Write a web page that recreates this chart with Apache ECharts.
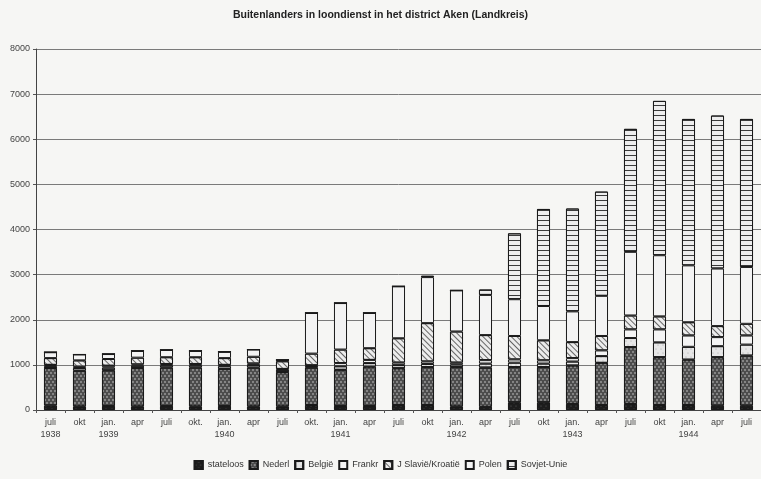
<!DOCTYPE html>
<html>
<head>
<meta charset="utf-8">
<script src="https://cdn.jsdelivr.net/npm/echarts@6/dist/echarts.min.js"></script>
<style>
html,body{margin:0;padding:0;background:#f6f6f4;}
#c{width:761px;height:479px;}
</style>
</head>
<body>
<div id="c"></div>
<script>
const categories = ['juli\n1938','okt','jan.\n1939','apr','juli','okt.','jan.\n1940','apr','juli','okt.','jan.\n1941','apr','juli','okt','jan.\n1942','apr','juli','okt','jan.\n1943','apr','juli','okt','jan.\n1944','apr','juli'];
const yTicks = [0,1000,2000,3000,4000,5000,6000,7000,8000];
const stateloos = [100,80,90,80,90,80,90,80,80,110,90,90,110,110,80,70,170,170,135,110,135,110,110,95,95];
const nederl    = [830,790,790,850,850,860,820,860,760,830,800,870,815,840,870,870,780,780,850,935,1260,1060,1005,1075,1110];
const belgie    = [40,60,60,50,50,50,60,60,50,30,80,80,70,70,60,90,100,80,90,150,200,330,285,245,245];
const frankr    = [30,30,40,30,30,30,30,30,20,20,70,70,55,55,40,75,70,70,75,125,190,285,250,200,200];
const jslavie   = [150,140,150,150,150,150,150,150,170,260,300,260,540,850,690,555,520,445,355,320,310,290,295,245,260];
const polen     = [130,130,110,150,160,140,140,160,30,900,1030,780,1150,1020,910,890,815,760,680,890,1410,1355,1260,1275,1260];
const sovjet    = [0,0,0,0,0,0,0,0,0,0,0,0,0,30,0,120,1460,2150,2280,2310,2725,3420,3245,3390,3280];
const seriesNames = ['stateloos','Nederl','België','Frankr','J Slavië/Kroatië','Polen','Sovjet-Unie'];

const styles = [
  {color:'#1c1c1c', decal:{symbol:'circle',symbolSize:0.5,color:'rgba(200,200,200,0.5)',dashArrayX:[[2,3],[0,2.5,2,0.5]],dashArrayY:[2,1]}},
  {color:'#4c4c4c', decal:{symbol:'circle',symbolSize:0.9,color:'rgba(230,230,230,0.55)',dashArrayX:[[2,2],[0,2,2,0]],dashArrayY:[2,1]}},
  {color:'#e6e6e6', decal:{symbol:'circle',symbolSize:0.6,color:'rgba(120,120,120,0.6)',dashArrayX:[[1.5,2.5],[0,2,1.5,0.5]],dashArrayY:[1.5,1.5]}},
  {color:'#f4f4f4'},
  {color:'#ececec', decal:{symbol:'rect',symbolSize:1,color:'#666',dashArrayX:[1,0],dashArrayY:[1,2.8],rotation:Math.PI/4}},
  {color:'#f3f3f3'},
  {color:'#ededed', decal:{symbol:'rect',symbolSize:1,color:'#3a3a3a',dashArrayX:[1,0],dashArrayY:[1,3.4]}}
];
const dataSets = [stateloos,nederl,belgie,frankr,jslavie,polen,sovjet];

const series = seriesNames.map((n,i)=>{
  const it = {color:styles[i].color, borderColor:'#1a1a1a', borderWidth:1};
  if (styles[i].decal) it.decal = styles[i].decal;
  return {name:n, type:'bar', stack:'total', data:dataSets[i], barCategoryGap:'55%', itemStyle:it};
});

const chart = echarts.init(document.getElementById('c'), null, {renderer:'canvas'});
chart.setOption({
  backgroundColor:'#f6f6f4',
  animation:false,
  textStyle:{fontFamily:'Liberation Sans, Arial, sans-serif'},
  title:{text:'Buitenlanders in loondienst in het district Aken (Landkreis)', left:'center', top:5,
    textStyle:{fontSize:10.5, fontWeight:'bold', color:'#222', fontFamily:'Liberation Sans, Arial, sans-serif'}},
  legend:{bottom:4, left:'center', itemWidth:8, itemHeight:8, itemGap:5, icon:'rect',
    textStyle:{fontSize:9, color:'#333'}, data:seriesNames},
  grid:{left:36, right:-6, top:49, bottom:69, containLabel:false},
  xAxis:{type:'category', data:categories,
    axisLine:{lineStyle:{color:'#444', width:1}},
    axisTick:{show:true, length:3, lineStyle:{color:'#555'}},
    axisLabel:{fontSize:9, color:'#444', lineHeight:12, margin:7, interval:0}},
  yAxis:{type:'value', min:yTicks[0], max:yTicks[yTicks.length-1], interval:1000,
    axisLine:{show:true, lineStyle:{color:'#444'}},
    axisTick:{show:true, length:3, lineStyle:{color:'#555'}},
    axisLabel:{fontSize:9, color:'#444', margin:6, formatter:v=>String(v)},
    splitLine:{lineStyle:{color:'#7a7a7a', width:1}}},
  series:series
});
</script>
</body>
</html>
